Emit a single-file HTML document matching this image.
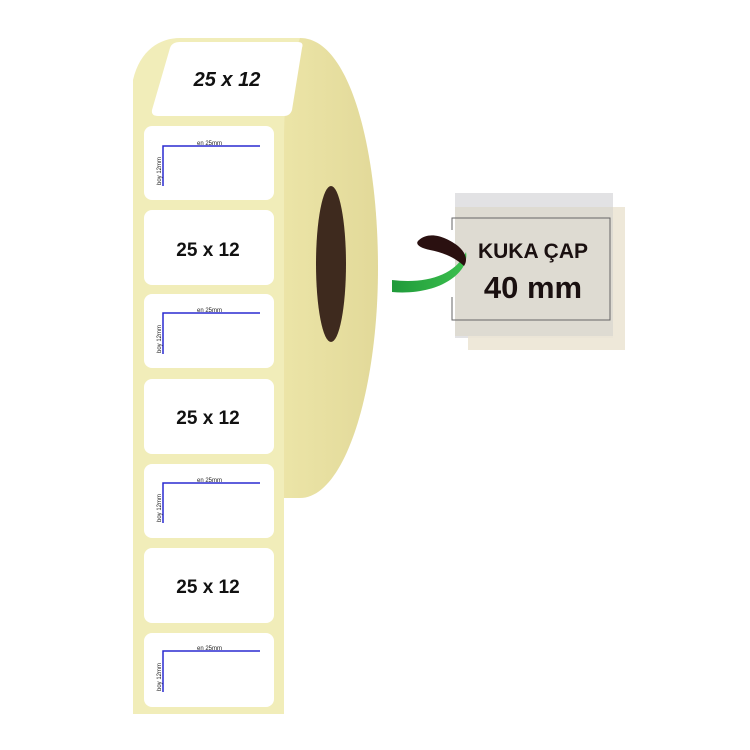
<!DOCTYPE html>
<html><head><meta charset="utf-8"><style>
html,body{margin:0;padding:0;background:#fff;width:750px;height:750px;overflow:hidden}
svg{display:block}
</style></head><body>
<svg width="750" height="750" viewBox="0 0 750 750" xmlns="http://www.w3.org/2000/svg" font-family="Liberation Sans, Arial, sans-serif">
<defs>
<linearGradient id="side" x1="0" x2="1" y1="0" y2="0">
<stop offset="0" stop-color="#ede6a9"/><stop offset="1" stop-color="#e2d999"/>
</linearGradient>
<linearGradient id="gr" x1="0" x2="1"><stop offset="0" stop-color="#1f9a3a"/><stop offset="1" stop-color="#3cc04e"/></linearGradient>
</defs>
<path d="M 270 38 L 300 38 C 350 38 378 150 378 268 C 378 390 345 498 300 498 L 270 498 Z" fill="url(#side)"/>
<path d="M 133 714 L 133 80 C 140 50 160 38 180 38 L 300 38 C 292 60 284 90 284 140 L 284 714 Z" fill="#f1edb9"/>
<ellipse cx="331" cy="264" rx="15" ry="78" fill="#3e2a1e"/>
<path d="M 180 42 L 298 42 Q 304 42 302 48 L 292 110 Q 290 116 284 116 L 158 116 Q 151 116 152 110 L 170 48 Q 172 42 180 42 Z" fill="#fff"/>
<text x="227" y="86" font-size="20" font-style="italic" font-weight="bold" text-anchor="middle" fill="#111">25 x 12</text>
<g fill="#fff">
<rect x="144" y="126" width="130" height="74" rx="8"/>
<rect x="144" y="210" width="130" height="75" rx="8"/>
<rect x="144" y="294" width="130" height="74" rx="8"/>
<rect x="144" y="379" width="130" height="75" rx="8"/>
<rect x="144" y="464" width="130" height="74" rx="8"/>
<rect x="144" y="548" width="130" height="75" rx="8"/>
<rect x="144" y="633" width="130" height="74" rx="8"/>
</g>
<g font-size="19" font-weight="bold" fill="#111" text-anchor="middle">
<text x="208" y="256">25 x 12</text>
<text x="208" y="424">25 x 12</text>
<text x="208" y="593">25 x 12</text>
</g>
<g stroke="#2a2ad0" stroke-width="1.5" fill="none">
<path d="M 163 186 L 163 146 L 260 146"/>
<path d="M 163 354 L 163 313 L 260 313"/>
<path d="M 163 523 L 163 483 L 260 483"/>
<path d="M 163 692 L 163 651 L 260 651"/>
</g>
<g font-size="6" fill="#222">
<text x="197" y="145">en 25mm</text>
<text x="197" y="312">en 25mm</text>
<text x="197" y="482">en 25mm</text>
<text x="197" y="650">en 25mm</text>
<text transform="translate(161,185) rotate(-90)">boy 12mm</text>
<text transform="translate(161,353) rotate(-90)">boy 12mm</text>
<text transform="translate(161,522) rotate(-90)">boy 12mm</text>
<text transform="translate(161,691) rotate(-90)">boy 12mm</text>
</g>
<rect x="455" y="193" width="158" height="145" fill="#e2e2e4"/>
<rect x="468" y="207" width="157" height="143" fill="#ece5d5" opacity="0.9"/>
<rect x="455" y="207" width="158" height="129" fill="#dedbd2"/>
<path d="M 452 230 L 452 218 L 610 218 L 610 320 L 452 320 L 452 297" stroke="#666" stroke-width="1" fill="none"/>
<text x="533" y="258" font-size="21" font-weight="bold" text-anchor="middle" fill="#1a1010">KUKA ÇAP</text>
<text x="533" y="298" font-size="31" font-weight="bold" text-anchor="middle" fill="#1a1010">40 mm</text>
<path d="M 392 280 C 425 284 455 276 466 252 C 470 272 440 296 392 292 Z" fill="url(#gr)"/>
<path d="M 419 240 C 430 230 448 238 458 246 C 466 253 468 260 464 266 C 456 258 442 252 430 250 C 420 248 414 244 419 240 Z" fill="#2a1010"/>
</svg>
</body></html>
